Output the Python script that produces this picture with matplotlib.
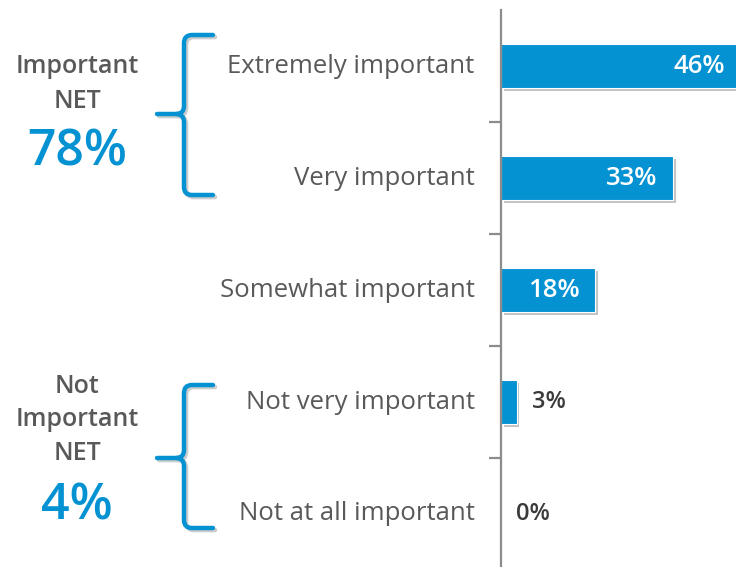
import matplotlib
matplotlib.use('Agg')
import matplotlib.pyplot as plt
import matplotlib.patheffects as pe
from matplotlib.path import Path
from matplotlib.patches import PathPatch

categories = ['Extremely important', 'Very important', 'Somewhat important',
              'Not very important', 'Not at all important']
values = [46, 33, 18, 3, 0]
net_titles = ['Important\nNET', 'Not\nImportant\nNET']
net_values = ['78%', '4%']

BLUE = '#0592D3'
GREY = '#595959'
W, H = 736, 567

plt.rcParams['font.family'] = ['Open Sans', 'DejaVu Sans']
fig = plt.figure(figsize=(W / 100, H / 100), dpi=100)

# bar axes, placed in pixel terms
x0, x1, y_top, y_bot = 501, 736, 10, 570
ax = fig.add_axes([x0 / W, (H - y_bot) / H, (x1 - x0) / W, (y_bot - y_top) / H])
ypos = list(range(len(categories)))
bars = ax.barh(ypos, values, height=0.39, color=BLUE, edgecolor='white', linewidth=0.8)
for b in bars:
    b.set_path_effects([pe.SimplePatchShadow(offset=(2, -2), alpha=0.35, shadow_rgbFace='#555555'),
                        pe.Normal()])
ax.set_xlim(0, (x1 - x0) / 5.21)
ax.set_ylim(len(categories) - 0.5, -0.5)
for s in ['top', 'right', 'bottom']:
    ax.spines[s].set_visible(False)
ax.spines['left'].set_color('#8c8c8c')
ax.spines['left'].set_linewidth(1.6)
ax.set_xticks([])
ax.set_yticks(ypos)
ax.set_yticklabels(categories, fontsize=18.5, color=GREY, va='center')
ax.tick_params(axis='y', which='major', length=0, pad=19)
ax.set_yticks([i + 0.5 for i in ypos[:-1]], minor=True)
ax.tick_params(axis='y', which='minor', length=9, width=1.6, color='#8c8c8c')
for lab in ax.get_yticklabels():
    lab.set_y(lab.get_position()[1])

for i, v in enumerate(values):
    if v >= 10:
        ax.annotate(f'{v}%', (v, i), xytext=(-11, 0), textcoords='offset points',
                    ha='right', va='center', color='white', fontsize=18.5,
                    fontweight='semibold', annotation_clip=False)
    else:
        ax.annotate(f'{v}%', (v, i), xytext=(11, 0), textcoords='offset points',
                    ha='left', va='center', color='#3a3a3a', fontsize=17,
                    fontweight='semibold', annotation_clip=False)

# overlay in pixel coordinates for the NET groups
ov = fig.add_axes([0, 0, 1, 1])
ov.set_xlim(0, W)
ov.set_ylim(H, 0)
ov.axis('off')
ov.patch.set_alpha(0)


def brace(y0, ym, y1, xv=184, xt=157, xe=213, r=8):
    verts = [(xe, y0), (xv + r, y0), (xv, y0), (xv, y0 + r),
             (xv, ym - r), (xv, ym), (xv - r, ym), (xt, ym),
             (xv - r, ym), (xv, ym), (xv, ym + r),
             (xv, y1 - r), (xv, y1), (xv + r, y1), (xe, y1)]
    codes = [Path.MOVETO, Path.LINETO, Path.CURVE3, Path.CURVE3,
             Path.LINETO, Path.CURVE3, Path.CURVE3, Path.LINETO,
             Path.MOVETO, Path.CURVE3, Path.CURVE3,
             Path.LINETO, Path.CURVE3, Path.CURVE3, Path.LINETO]
    p = PathPatch(Path(verts, codes), fill=False, edgecolor=BLUE, lw=3.2,
                  capstyle='round', joinstyle='round')
    p.set_path_effects([pe.SimpleLineShadow(offset=(1.5, -1.5), alpha=0.2), pe.Normal()])
    ov.add_patch(p)


brace(35, 114, 195)
brace(385, 458, 528)

ov.text(77, 84, net_titles[0], ha='center', va='center', fontsize=18,
        fontweight='semibold', color=GREY, linespacing=1.5)
ov.text(77, 152, net_values[0], ha='center', va='center', fontsize=36,
        fontweight='semibold', color=BLUE)
ov.text(77, 420, net_titles[1], ha='center', va='center', fontsize=18,
        fontweight='semibold', color=GREY, linespacing=1.45)
ov.text(77, 507, net_values[1], ha='center', va='center', fontsize=36,
        fontweight='semibold', color=BLUE)

fig.savefig('out.png', dpi=100)
